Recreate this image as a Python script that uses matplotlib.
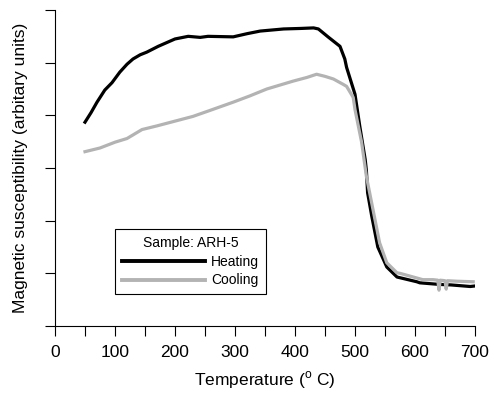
import matplotlib
matplotlib.use('Agg')
import matplotlib.pyplot as plt

plt.rcParams['font.family'] = ['Liberation Sans', 'DejaVu Sans']

# heating curve (temperature, susceptibility in tick units)
heat_t = [50, 60, 70, 83, 95, 108, 120, 130, 142, 153, 172, 200, 222, 242, 255, 297,
          320, 342, 381, 410, 431, 439, 455, 475, 483, 486, 500, 508, 517, 519, 521,
          528, 538, 553, 570, 603, 608, 640, 660, 692, 700]
heat_v = [3.87, 4.05, 4.25, 4.48, 4.62, 4.82, 4.97, 5.07, 5.15, 5.20, 5.31, 5.45, 5.50, 5.48, 5.50, 5.49,
          5.55, 5.60, 5.64, 5.65, 5.66, 5.64, 5.49, 5.31, 5.07, 4.91, 4.40, 3.79, 3.16, 2.95, 2.53,
          2.08, 1.50, 1.12, 0.93, 0.84, 0.82, 0.79, 0.78, 0.75, 0.76]

# cooling curve
cool_t = [50, 75, 100, 120, 145, 170, 200, 230, 255, 297, 325, 353, 397, 420, 436,
          450, 464, 480, 486, 497, 500, 511, 519, 530, 541, 553, 570, 575, 613, 630,
          638, 640, 642, 650, 652, 654, 670, 697]
cool_v = [3.31, 3.38, 3.49, 3.56, 3.73, 3.80, 3.89, 3.98, 4.08, 4.25, 4.37, 4.50, 4.65, 4.72, 4.78,
          4.74, 4.69, 4.59, 4.55, 4.34, 4.11, 3.49, 2.84, 2.21, 1.58, 1.20, 1.01, 1.00, 0.88, 0.88,
          0.87, 0.68, 0.87, 0.86, 0.70, 0.86, 0.85, 0.84]

x_ticks = [0, 100, 200, 300, 400, 500, 600, 700]
x_minor = [50, 150, 250, 350, 450, 550, 650]
y_ticks = [0, 1, 2, 3, 4, 5, 6]

fig = plt.figure(figsize=(4.94, 4.0), dpi=100)
ax = fig.add_axes([55 / 494, 74 / 400, 420 / 494, 316 / 400])

ax.plot(heat_t, heat_v, color='black', lw=2.3, label='Heating', solid_joinstyle='round')
ax.plot(cool_t, cool_v, color='#b3b3b3', lw=2.3, label='Cooling', solid_joinstyle='round')

ax.set_xlim(0, 700)
ax.set_ylim(0, 6)
ax.set_xticks(x_ticks)
ax.set_xticks(x_minor, minor=True)
ax.set_yticks(y_ticks)
ax.set_yticklabels([])
ax.tick_params(which='both', direction='out', length=7.5, width=0.8, labelsize=12.5, pad=6)
for s in ['top', 'right']:
    ax.spines[s].set_visible(False)
for s in ['left', 'bottom']:
    ax.spines[s].set_linewidth(0.8)

ax.set_xlabel(r'Temperature ($^\mathregular{o}$ C)', fontsize=12.5, labelpad=7)
ax.set_ylabel('Magnetic susceptibility (arbitary units)', fontsize=12.5, labelpad=6)

leg = ax.legend(title='Sample: ARH-5', loc='lower left', bbox_to_anchor=(0.143, 0.10),
                fontsize=10, title_fontsize=10, handlelength=6.0, frameon=True,
                fancybox=False, borderpad=0.5, labelspacing=0.35, handletextpad=0.4,
                borderaxespad=0)
leg.get_frame().set_edgecolor('black')
leg.get_frame().set_linewidth(0.8)
leg.get_frame().set_alpha(1)
for h in leg.get_lines():
    h.set_linewidth(2.8)

fig.savefig('out.png', dpi=100)
